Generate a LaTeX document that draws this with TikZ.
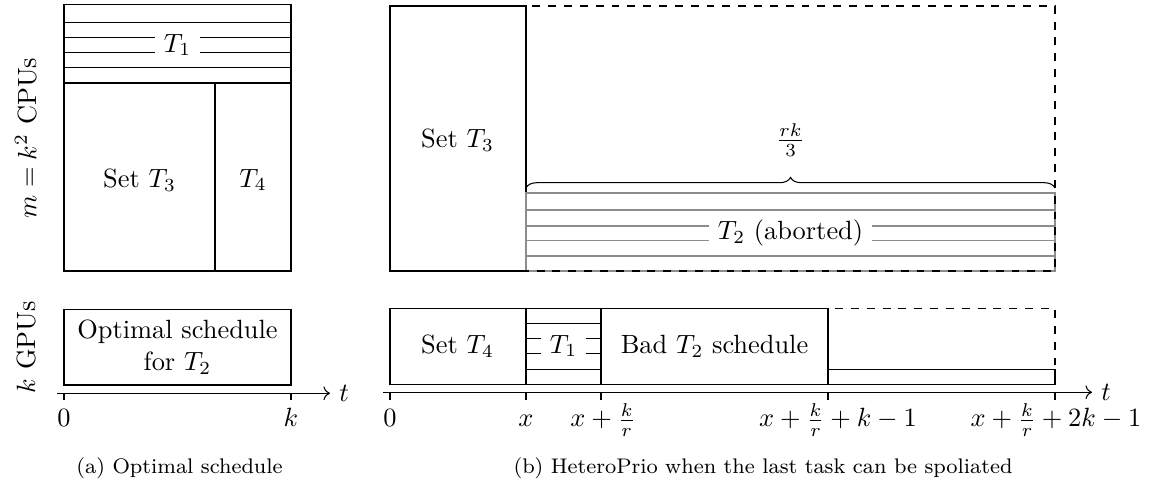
\documentclass[tikz,border=0pt]{standalone}
\usetikzlibrary{arrows.meta,decorations.pathreplacing}

\begin{document}
\begin{tikzpicture}[x=0.01332cm,y=-0.01332cm,>=To,
 gap/.style={fill=white,inner ysep=2pt},
 tick/.style={anchor=base},
 slot/.style={draw=black!45},
 capt/.style={font=\footnotesize,anchor=base}]
\useasboundingbox (0,0) rectangle (1173,485);

% (a) optimal schedule
\draw (64,4.7) rectangle (291,271);
\draw (64,22.3) -- (291,22.3) (64,37.7) -- (291,37.7) (64,52.5) -- (291,52.5)
 (64,67.7) -- (291,67.7) (64,83) -- (291,83);
\draw (215,83) -- (215,271);
\node[gap] (t1a) at (177.5,45) {$T_1$};
\node (t3a) at (139.5,180) {Set $T_3$};
\node (t4a) at (253,180) {$T_4$};
\draw (64,309.3) rectangle (291,385);
\node[align=center] (t2a) at (177.5,347) {Optimal schedule\\for $T_2$};
\node[rotate=90] (cpu) at (26,138) {$m=k^2$ CPUs};
\node[rotate=90] (gpu) at (26,347) {$k$ GPUs};
\coordinate (a0) at (57,393.3);
\coordinate (a1) at (330,393.3);
\draw[->] (a0) -- (a1) node[right] (ta) {$t$};
\draw (64,393.3) -- (64,400) (291,393.3) -- (291,400);
\node[tick] (za) at (64,427) {$0$};
\node[tick] (ka) at (291,427) {$k$};
\node[capt] (capa) at (179.5,474) {(a) Optimal schedule};

% (b) heteroprio
\draw (390,6) rectangle (526,271);
\node (t3b) at (457.5,140) {Set $T_3$};
\draw[slot] (526,193) rectangle (1055,271);
\draw[slot] (526,210) -- (1055,210) (526,226) -- (1055,226)
 (526,240.5) -- (1055,240.5) (526,256) -- (1055,256);
\node[gap] (t2b) at (790.5,233) {$T_2$ (aborted)};
\draw[dashed] (390,6) rectangle (1055,271);
\coordinate (br0) at (526,188);
\coordinate (br1) at (1055,188);
\draw[decorate,decoration={brace,amplitude=4pt}] (br0) -- (br1);
\node (rk) at (790.5,140) {$\frac{rk}{3}$};

\draw (390,308.3) rectangle (526,384.3);
\node (t4b) at (457.5,346) {Set $T_4$};
\draw (526,308.3) rectangle (601,384.3);
\draw (526,323.5) -- (601,323.5) (526,338.7) -- (601,338.7)
 (526,353.9) -- (601,353.9) (526,369.1) -- (601,369.1);
\node[gap] (t1b) at (563.5,346) {$T_1$};
\draw (601,308.3) rectangle (828,384.3);
\node (bad) at (714.5,346) {Bad $T_2$ schedule};
\draw (828,369.1) rectangle (1055,384.3);
\draw[dashed] (390,308.3) rectangle (1055,384.3);
\coordinate (b0) at (383,392.3);
\coordinate (b1) at (1092,392.3);
\draw[->] (b0) -- (b1) node[right] (tb) {$t$};
\draw (390,392.3) -- (390,400) (526,392.3) -- (526,400) (601,392.3) -- (601,400)
 (828,392.3) -- (828,400) (1055,392.3) -- (1055,400);
\node[tick] (zb) at (390,427) {$0$};
\node[tick] (xb) at (526,427) {$x$};
\node[tick] (xk) at (603,427) {$x+\frac{k}{r}$};
\node[tick] (xkk) at (838,427) {$x+\frac{k}{r}+k-1$};
\node[tick] (xkkk) at (1056,427) {$x+\frac{k}{r}+2k-1$};
\node[capt] (capb) at (763,474) {(b) HeteroPrio when the last task can be spoliated};
\end{tikzpicture}
\end{document}
